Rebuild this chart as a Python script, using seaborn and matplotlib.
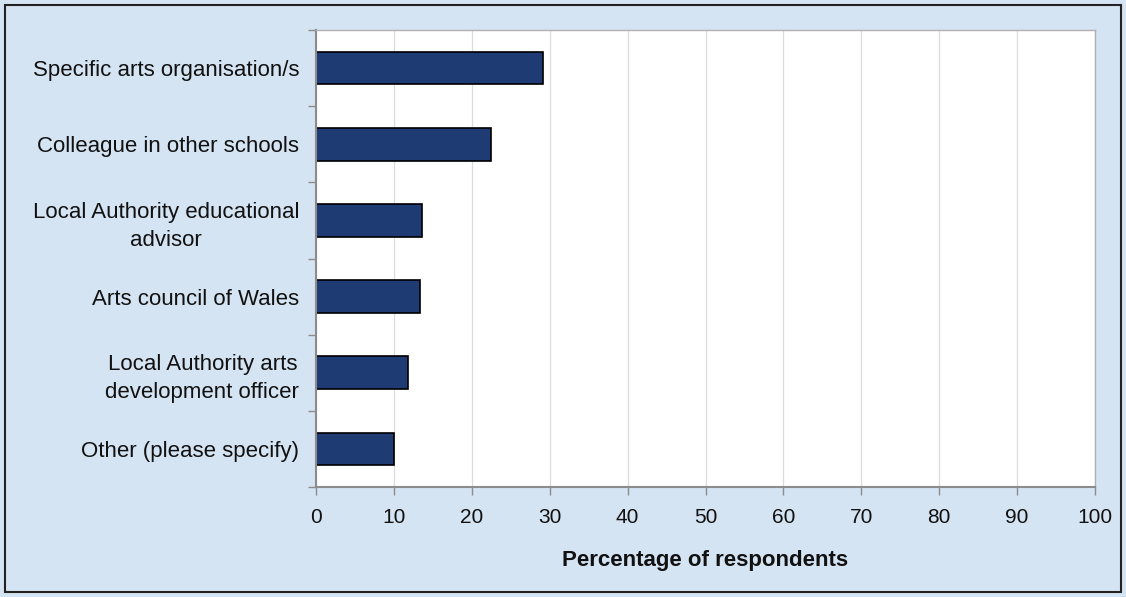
import matplotlib
matplotlib.use("Agg")
import matplotlib.pyplot as plt
import seaborn as sns
import numpy as np
import pandas as pd

categories = [
    "Specific arts organisation/s",
    "Colleague in other schools",
    "Local Authority educational\nadvisor",
    "Arts council of Wales",
    "Local Authority arts\ndevelopment officer",
    "Other (please specify)",
]
values = [29.1, 22.5, 13.6, 13.4, 11.8, 10.0]
x_ticks = list(range(0, 101, 10))
x_label = "Percentage of respondents"

bg = "#d5e4f3"
bar_color = "#1f3b73"
spine_gray = "#8c8c8c"

sns.set_theme(style="white")
plt.rcParams["font.family"] = ["Liberation Sans", "DejaVu Sans"]

fig = plt.figure(figsize=(11.26, 5.97), dpi=100, facecolor=bg)
ax = fig.add_axes([316 / 1126, 1 - 487 / 597, (1095 - 316) / 1126, (487 - 30) / 597])
ax.set_facecolor("white")

df = pd.DataFrame({"cat": categories, "val": values})
sns.barplot(data=df, x="val", y="cat", color=bar_color, edgecolor="black",
            linewidth=1.2, width=0.43, saturation=1, ax=ax, orient="h")

ax.set_xlim(0, 100)
ax.set_ylim(len(categories) - 0.5, -0.5)
ax.set_xticks(x_ticks)
ax.set_xticklabels([str(t) for t in x_ticks], fontsize=15, color="#111111")
ax.set_yticks(range(len(categories)))
ax.set_yticklabels(categories, fontsize=16, color="#111111",
                   multialignment="center", linespacing=1.45)
ax.set_yticks(np.arange(-0.5, len(categories) + 0.5, 1), minor=True)
ax.tick_params(axis="y", which="major", left=True, length=0, pad=12)
ax.tick_params(axis="y", which="minor", left=True, length=6, color=spine_gray, width=1, direction="out")
ax.tick_params(axis="x", which="major", bottom=True, length=6, color=spine_gray, width=1, direction="out", pad=9)
ax.set_ylabel("")
ax.set_xlabel(x_label, fontsize=16, fontweight="bold", labelpad=17, color="#111111")

ax.grid(axis="x", color="#dcdcdc", linewidth=0.9)
ax.set_axisbelow(True)
for side in ["left", "bottom"]:
    ax.spines[side].set_color(spine_gray)
    ax.spines[side].set_linewidth(1.5)
for side in ["top", "right"]:
    ax.spines[side].set_color("#b0b0b0")
    ax.spines[side].set_linewidth(1.0)

border = plt.Rectangle((5 / 1126, 5 / 597), 1 - 10 / 1126, 1 - 10 / 597,
                       transform=fig.transFigure, fill=False, edgecolor="#222222", linewidth=1.5)
fig.patches.append(border)

fig.savefig("out.png", dpi=100, facecolor=bg)
